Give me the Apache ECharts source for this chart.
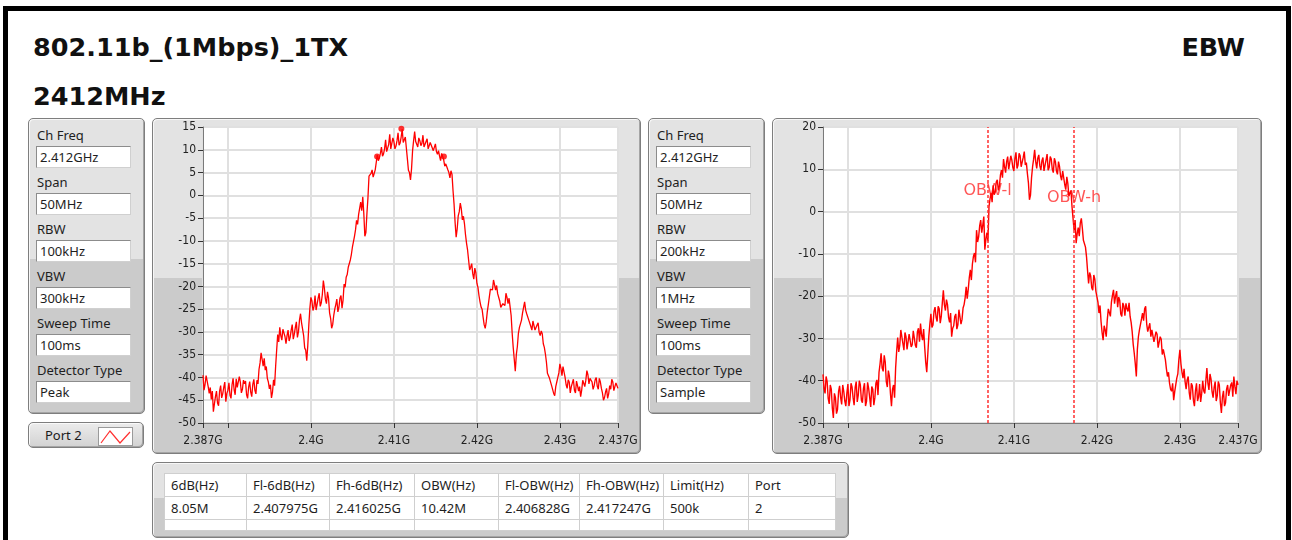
<!DOCTYPE html>
<html><head><meta charset="utf-8">
<script src="https://cdn.jsdelivr.net/npm/echarts@6/dist/echarts.min.js"></script>
<style>
html,body{margin:0;padding:0;background:#fff;width:1292px;height:540px;overflow:hidden;position:relative;font-family:'Noto Sans',sans-serif;color:#1a1a1a;}
#frame{position:absolute;left:3px;top:6px;width:1278px;height:560px;border:5px solid #000;border-bottom:none;}
.title{position:absolute;font-family:'DejaVu Sans',sans-serif;font-weight:bold;font-size:25.5px;line-height:24px;white-space:nowrap;color:#111;}
.panel{position:absolute;box-sizing:border-box;border:1px solid #7e7e7e;border-radius:5px;
  background:linear-gradient(#e3e3e3 0%,#e3e3e3 47.5%,#cbcbcb 47.5%,#cbcbcb 100%);
  box-shadow:inset 1px 1px 0 #f7f7f7, inset -1px -1px 0 #a5a5a5;}
.lbl{position:absolute;font-size:13px;line-height:16px;white-space:nowrap;color:#1e1e1e;}
.box{position:absolute;box-sizing:border-box;width:95px;height:22px;background:#fff;border:1px solid #8c8c8c;border-right-color:#d0d0d0;border-bottom-color:#d0d0d0;font-size:13px;line-height:20px;padding-left:3px;white-space:nowrap;color:#1e1e1e;}
#btn{position:absolute;left:28px;top:422px;width:116px;height:26px;box-sizing:border-box;border:1px solid #7e7e7e;border-radius:5px;background:linear-gradient(#ececec,#d2d2d2);box-shadow:inset 1px 1px 0 #fafafa, inset -1px -1px 0 #a5a5a5;}
#btn span{position:absolute;left:16px;top:4px;font-size:13px;line-height:16px;}
#btn svg{position:absolute;left:69px;top:4px;}
#tbl{position:absolute;left:164px;top:473px;border-collapse:collapse;background:#fff;table-layout:fixed;}
#tbl td{border:1px solid #cfcfcf;font-size:13px;line-height:16px;height:23px;padding:0 0 0 6px;white-space:nowrap;overflow:hidden;box-sizing:border-box;color:#1e1e1e;}
#chart{position:absolute;left:0;top:0;width:1292px;height:540px;}
</style></head><body>
<div id="frame"></div>
<div class="title" style="left:33px;top:35px;">802.11b_(1Mbps)_1TX</div>
<div class="title" style="left:33px;top:84px;">2412MHz</div>
<div class="title" style="right:47px;top:35px;">EBW</div>
<div id="ui"></div>
<div id="chart"></div>
<script>
// ---------------- data ----------------
const settingLabels = ['Ch Freq', 'Span', 'RBW', 'VBW', 'Sweep Time', 'Detector Type'];
const settings1 = ['2.412GHz', '50MHz', '100kHz', '300kHz', '100ms', 'Peak'];
const settings2 = ['2.412GHz', '50MHz', '200kHz', '1MHz', '100ms', 'Sample'];
const tableHeaders = ['6dB(Hz)', 'Fl-6dB(Hz)', 'Fh-6dB(Hz)', 'OBW(Hz)', 'Fl-OBW(Hz)', 'Fh-OBW(Hz)', 'Limit(Hz)', 'Port'];
const tableRow = ['8.05M', '2.407975G', '2.416025G', '10.42M', '2.406828G', '2.417247G', '500k', '2'];
const legendName = 'Port 2';

const xMin = 2.387, xMax = 2.437;
const xTickMarks = [2.387, 2.39, 2.40, 2.41, 2.42, 2.43, 2.437];
const xTickLabels = [2.387, 2.40, 2.41, 2.42, 2.43, 2.437];
const y1Min = -50, y1Max = 15, y1Step = 5;
const y2Min = -50, y2Max = 20, y2Step = 10;

// sweep grid: 401 points from 2.387 GHz, 0.125 MHz apart
// even sweep points are in traceN, odd sweep points in traceNMid
const sweepStartGHz = 2.387, sweepStepGHz = 0.000125;

// chart 1: peak detector trace (dBm), even sweep points
const trace1 = [
-39.5,-41.5,-40.8,-43.5,-44.8,-47.5,-44.2,-45.6,-43.0,-44.5,
-42.2,-45.3,-42.8,-43.9,-41.6,-42.7,-40.3,-41.9,-41.0,-42.6,
-41.4,-43.8,-42.1,-43.2,-41.5,-42.8,-40.6,-38.2,-34.6,-37.5,
-38.4,-40.2,-42.5,-44.5,-40.5,-37.6,-30.6,-29.0,-31.8,-30.2,
-32.6,-29.6,-31.2,-28.4,-30.5,-27.8,-30.0,-26.0,-29.4,-33.5,
-36.3,-28.5,-22.4,-25.3,-22.0,-24.8,-21.5,-23.6,-18.7,-22.8,
-21.2,-25.8,-29.2,-26.4,-24.0,-25.6,-22.6,-24.8,-19.5,-18.0,
-15.8,-14.2,-11.4,-9.0,-5.5,-4.2,-1.5,-0.3,-9.0,-4.0,
4.2,4.8,4.0,5.6,8.9,8.2,10.6,9.1,12.2,10.0,
13.4,10.6,11.8,10.8,13.7,11.5,14.5,12.0,10.4,5.5,
3.4,9.8,14.0,11.2,12.6,10.9,13.2,11.0,12.4,10.6,
11.9,9.8,11.3,9.0,8.6,9.2,7.8,6.9,5.6,3.8,
4.6,-2.0,-9.2,-4.5,-1.7,-5.4,-6.2,-10.5,-14.2,-15.8,
-17.2,-16.0,-19.3,-22.0,-24.5,-26.8,-29.2,-25.6,-22.3,-21.0,
-18.6,-20.8,-21.6,-23.2,-25.0,-23.4,-21.5,-23.8,-24.5,-30.3,
-36.0,-35.0,-30.3,-28.6,-25.8,-23.4,-26.0,-27.4,-28.8,-27.6,
-29.6,-28.5,-30.1,-29.8,-32.6,-34.8,-39.1,-40.2,-41.8,-43.5,
-42.0,-40.0,-37.0,-39.6,-38.8,-41.6,-40.5,-43.4,-41.2,-42.8,
-40.8,-43.0,-44.2,-40.6,-42.0,-38.5,-41.4,-39.8,-42.6,-40.5,
-41.9,-40.2,-42.4,-45.0,-43.2,-44.6,-41.8,-40.4,-42.9,-41.2,
-42.4];
// chart 1: odd sweep points
const trace1Mid = [
-42.8,-39.6,-42.0,-42.2,-43.0,-45.8,-43.0,-46.2,-41.8,-43.6,
-41.0,-43.5,-41.2,-44.6,-40.2,-43.8,-42.2,-39.8,-43.4,-40.6,
-40.8,-44.6,-40.9,-44.2,-40.4,-43.6,-41.4,-36.8,-36.0,-35.8,
-37.6,-41.0,-41.6,-43.2,-41.8,-34.0,-32.2,-30.8,-29.4,-31.0,
-30.8,-32.0,-29.6,-31.6,-29.0,-31.2,-27.4,-28.0,-30.8,-34.0,
-33.0,-24.8,-23.2,-24.4,-25.2,-22.6,-24.4,-21.8,-20.4,-23.8,
-22.6,-27.0,-28.4,-25.0,-22.8,-24.6,-22.0,-23.0,-20.2,-17.4,
-16.0,-13.0,-11.8,-7.6,-6.4,-4.6,-3.4,-4.0,-8.2,-0.5,
3.8,5.6,4.4,5.2,7.6,9.2,8.6,10.2,9.6,11.2,
10.2,12.6,10.2,12.0,11.0,12.8,11.6,12.8,8.0,5.0,
5.8,12.0,11.8,10.6,12.0,11.4,10.6,11.8,10.2,11.6,
10.4,9.4,9.6,9.8,7.6,8.8,6.4,7.0,5.0,5.4,
1.0,-6.0,-7.4,-3.6,-3.0,-4.6,-8.6,-12.0,-16.4,-15.0,
-18.4,-17.0,-20.2,-23.4,-25.0,-28.4,-27.8,-24.0,-20.6,-20.8,
-19.6,-19.8,-22.0,-24.6,-23.8,-24.2,-22.4,-22.6,-26.4,-33.4,
-38.6,-33.2,-29.0,-27.4,-24.6,-25.2,-26.0,-27.0,-29.6,-28.0,
-29.8,-28.0,-30.8,-30.4,-33.4,-36.6,-38.8,-40.6,-42.2,-44.0,
-41.0,-39.0,-38.0,-37.6,-40.0,-42.4,-41.0,-42.0,-40.4,-43.4,
-41.8,-42.0,-42.8,-41.0,-40.6,-39.4,-40.2,-41.0,-41.8,-40.0,
-42.6,-41.0,-43.4,-44.4,-42.4,-43.6,-42.6,-41.0,-42.0,-40.8];
// chart 1 markers: -6 dB edges and peak
const markerFreqs = [2.407975, 2.416025, 2.4109];
const markerLevels = [8.5, 8.5, 14.6];

// chart 2: sample detector trace (dBm), even sweep points
const trace2 = [
-38.5,-43.0,-40.2,-45.5,-42.0,-48.8,-44.0,-46.8,-41.2,-45.6,
-42.5,-46.0,-40.8,-44.6,-41.5,-45.8,-40.2,-43.4,-41.0,-45.2,
-40.6,-44.8,-41.8,-46.2,-42.0,-44.0,-39.8,-38.0,-33.5,-37.8,
-35.6,-41.5,-39.0,-46.0,-41.0,-37.0,-29.8,-31.6,-28.4,-32.8,
-29.6,-33.0,-28.8,-31.5,-28.0,-32.2,-27.6,-26.5,-30.4,-32.0,
-38.0,-29.5,-24.2,-26.8,-22.6,-26.0,-23.0,-24.8,-18.6,-23.4,
-22.0,-26.2,-29.6,-27.0,-24.2,-26.8,-23.6,-25.5,-22.0,-17.8,
-18.4,-13.8,-12.4,-9.8,-4.4,-6.0,-2.0,-3.2,-9.0,-5.0,
1.2,4.4,6.2,4.6,7.5,6.0,9.8,12.4,9.2,13.0,
10.4,12.2,9.6,14.0,11.0,13.2,10.8,14.2,11.6,6.8,
3.9,10.6,14.6,10.2,13.4,9.8,12.8,10.0,13.6,10.4,
12.4,9.2,11.8,8.8,10.6,7.4,8.0,5.2,6.6,4.4,
1.2,-4.4,-7.5,-3.8,-2.7,-4.0,-6.6,-10.7,-17.0,-15.2,
-18.6,-16.0,-19.0,-24.0,-26.0,-30.4,-28.0,-25.6,-23.0,-21.4,
-18.5,-20.0,-22.6,-21.0,-24.8,-22.4,-21.7,-23.6,-24.8,-28.4,
-33.5,-39.0,-29.6,-27.6,-24.0,-23.0,-26.6,-28.0,-29.6,-28.2,
-31.0,-29.0,-31.8,-30.2,-32.6,-35.0,-39.0,-40.6,-42.5,-44.6,
-41.0,-38.4,-32.7,-38.0,-37.2,-42.0,-39.0,-44.5,-41.2,-46.0,
-40.6,-43.8,-45.0,-40.0,-43.0,-37.0,-42.2,-39.6,-44.0,-40.2,
-43.6,-41.0,-47.6,-42.4,-45.2,-41.0,-44.0,-40.4,-39.0,-43.2,
-41.0];
// chart 2: odd sweep points
const trace2Mid = [
-41.8,-39.0,-44.2,-41.0,-46.5,-43.0,-47.8,-42.6,-44.0,-41.0,
-44.8,-43.0,-46.0,-40.6,-44.0,-41.6,-45.0,-40.0,-44.6,-41.8,
-46.0,-40.4,-44.0,-41.4,-45.8,-40.6,-43.4,-36.0,-37.0,-34.0,
-40.2,-37.6,-43.0,-42.0,-44.0,-33.0,-33.2,-28.0,-31.2,-28.6,
-32.6,-29.0,-32.0,-28.2,-31.6,-28.4,-30.8,-29.2,-27.8,-35.6,
-33.8,-26.6,-27.4,-23.6,-25.0,-22.4,-26.4,-21.6,-22.0,-20.8,
-25.0,-24.0,-27.6,-24.8,-27.8,-23.2,-26.6,-22.8,-20.4,-20.6,
-15.6,-16.2,-10.6,-12.0,-7.2,-3.4,-5.0,-1.2,-6.6,-7.0,
3.0,2.2,4.0,7.0,5.0,8.6,8.0,10.6,11.8,10.0,
13.2,10.4,12.6,10.2,13.8,10.6,12.8,11.0,9.0,2.8,
8.0,12.4,11.8,12.6,10.8,12.0,9.6,12.2,9.8,13.0,
10.0,12.6,9.6,11.8,8.4,9.6,6.4,8.2,3.6,5.0,
-1.6,-2.0,-5.2,-5.8,-1.6,-6.8,-8.4,-14.0,-14.4,-18.0,
-15.0,-18.8,-21.4,-22.2,-28.6,-27.0,-29.6,-23.0,-24.8,-19.8,
-21.8,-18.8,-20.2,-24.2,-21.6,-24.6,-23.0,-21.6,-26.2,-31.4,
-36.0,-32.6,-28.0,-25.4,-25.8,-22.4,-28.4,-26.4,-28.0,-30.8,
-28.4,-32.2,-29.6,-33.8,-33.0,-37.2,-38.0,-42.0,-40.6,-42.6,
-39.4,-35.0,-36.0,-39.4,-40.2,-39.8,-42.8,-40.6,-44.6,-42.4,
-44.8,-40.8,-43.0,-42.4,-40.0,-40.6,-38.4,-42.6,-41.6,-44.8,
-40.2,-45.2,-43.8,-46.0,-42.0,-43.6,-41.0,-43.8,-41.4,-40.0];
// chart 2 OBW edges
const obwFreqs = [2.406828, 2.417247];
const obwNames = ['OBW-l', 'OBW-h'];
const obwLabelLevels = [4.9, 3.3];

// ---------------- UI chrome ----------------
function buildPanel(x, values) {
  let h = '<div class="panel" style="left:' + x + 'px;top:118px;width:117px;height:296px;"></div>';
  settingLabels.forEach((l, i) => {
    h += '<div class="lbl" style="left:' + (x + 9) + 'px;top:' + (127 + 47 * i) + 'px;">' + l + '</div>';
    h += '<div class="box" style="left:' + (x + 8) + 'px;top:' + (146 + 47 * i) + 'px;">' + values[i] + '</div>';
  });
  return h;
}
let ui = '';
ui += '<div class="panel" style="left:152px;top:118px;width:489px;height:336px;"></div>';
ui += '<div class="panel" style="left:772px;top:118px;width:490px;height:336px;"></div>';
ui += buildPanel(28, settings1);
ui += buildPanel(648, settings2);
ui += '<div id="btn"><span>' + legendName + '</span><svg width="35" height="19"><rect x="0.5" y="0.5" width="34" height="18" fill="#fff" stroke="#9a9a9a"/><polyline points="3,16 12,4 22,16 32,5" fill="none" stroke="#ff3030" stroke-width="1.2"/></svg></div>';
ui += '<div class="panel" style="left:152px;top:462px;width:697px;height:76px;"></div>';
const colW = [82, 83, 85, 84, 81, 84, 85, 87];
let t = '<table id="tbl"><colgroup>' + colW.map(w => '<col style="width:' + w + 'px">').join('') + '</colgroup>';
t += '<tr>' + tableHeaders.map(s => '<td>' + s + '</td>').join('') + '</tr>';
t += '<tr>' + tableRow.map(s => '<td>' + s + '</td>').join('') + '</tr>';
t += '<tr>' + tableRow.map(() => '<td style="height:11px"></td>').join('') + '</tr></table>';
ui += t;
document.getElementById('ui').innerHTML = ui;

// ---------------- chart ----------------
function sweepFreq(k) { return +(sweepStartGHz + k * sweepStepGHz).toFixed(7); }
function interleave(even, odd) {
  const out = [];
  even.forEach((v, i) => {
    out.push([sweepFreq(2 * i), v]);
    if (i < odd.length) out.push([sweepFreq(2 * i + 1), odd[i]]);
  });
  return out;
}
const axFont = "'DejaVu Sans Condensed','DejaVu Sans',sans-serif";
function xAxisFor(g) {
  return {
    gridIndex: g, type: 'value', min: xMin, max: xMax,
    axisLine: { show: true, onZero: false, lineStyle: { color: '#7a7a7a', width: 1 } },
    axisTick: { show: true, customValues: xTickMarks, length: 5, lineStyle: { color: '#333' } },
    axisLabel: { show: true, customValues: xTickLabels, margin: 12, color: '#222', fontSize: 12, fontFamily: axFont,
      formatter: v => (+(+v).toFixed(3)) + 'G', hideOverlap: false, showMinLabel: true, showMaxLabel: true },
    splitLine: { show: true, lineStyle: { color: '#e0e0e0', width: 2 } }
  };
}
function yAxisFor(g, mn, mx, st) {
  return {
    gridIndex: g, type: 'value', min: mn, max: mx, interval: st,
    axisLine: { show: true, lineStyle: { color: '#7a7a7a', width: 1 } },
    axisTick: { show: true, length: 5, lineStyle: { color: '#333' } },
    axisLabel: { margin: 7, color: '#222', fontSize: 12, fontFamily: axFont },
    splitLine: { show: true, lineStyle: { color: '#e0e0e0', width: 2 } }
  };
}
const chart = echarts.init(document.getElementById('chart'), null, { renderer: 'canvas' });
chart.setOption({
  animation: false,
  backgroundColor: 'transparent',
  grid: [
    { left: 203, top: 127, width: 415, height: 296, show: true, backgroundColor: '#fff', borderColor: '#9a9a9a', borderWidth: 1, containLabel: false, outerBoundsMode: 'none' },
    { left: 823, top: 127, width: 415, height: 296, show: true, backgroundColor: '#fff', borderColor: '#9a9a9a', borderWidth: 1, containLabel: false, outerBoundsMode: 'none' }
  ],
  xAxis: [xAxisFor(0), xAxisFor(1)],
  yAxis: [yAxisFor(0, y1Min, y1Max, y1Step), yAxisFor(1, y2Min, y2Max, y2Step)],
  series: [
    { type: 'line', xAxisIndex: 0, yAxisIndex: 0, data: interleave(trace1, trace1Mid), sampling: null,
      showSymbol: false, symbol: 'none', lineStyle: { color: '#ff0000', width: 1.3 }, z: 3 },
    { type: 'scatter', xAxisIndex: 0, yAxisIndex: 0, data: markerFreqs.map((f, i) => [f, markerLevels[i]]),
      symbolSize: 6, itemStyle: { color: '#ff0000' }, z: 4 },
    { type: 'line', xAxisIndex: 1, yAxisIndex: 1, data: interleave(trace2, trace2Mid), sampling: null,
      showSymbol: false, symbol: 'none', lineStyle: { color: '#ff0000', width: 1.4 }, z: 3,
      markLine: { silent: true, symbol: 'none', precision: 6, label: { show: false },
        lineStyle: { color: '#ff3030', type: [3, 2], width: 1.5 },
        data: obwFreqs.map(f => ({ xAxis: f })) } },
    { type: 'scatter', xAxisIndex: 1, yAxisIndex: 1, symbol: 'circle', symbolSize: 0,
      data: obwFreqs.map((f, i) => ({ value: [f, obwLabelLevels[i]], name: obwNames[i] })),
      label: { show: true, position: 'inside', formatter: p => p.name, color: '#ff2a2a', fontSize: 16, fontFamily: "'DejaVu Sans',sans-serif" },
      z: 2 }
  ]
});
</script>
</body></html>
